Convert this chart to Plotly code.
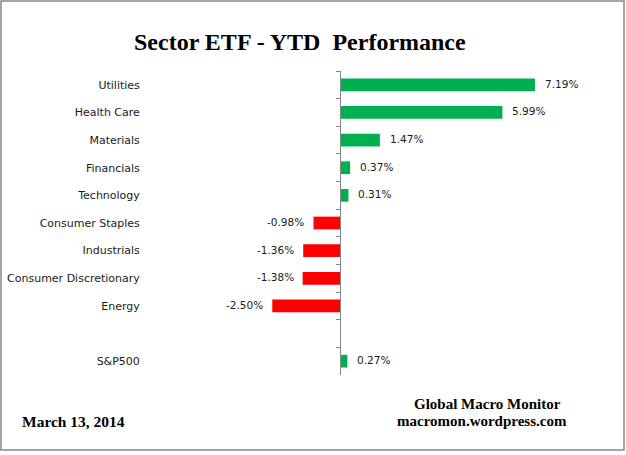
import plotly.graph_objects as go

categories = ["Utilities", "Health Care", "Materials", "Financials", "Technology",
              "Consumer Staples", "Industrials", "Consumer Discretionary", "Energy",
              " ", "S&P500"]
values = [7.19, 5.99, 1.47, 0.37, 0.31, -0.98, -1.36, -1.38, -2.50, None, 0.27]
labels = ["7.19%", "5.99%", "1.47%", "0.37%", "0.31%", "-0.98%", "-1.36%", "-1.38%",
          "-2.50%", "", "0.27%"]

W, H = 626, 455
ML, MR, MT, MB = 140, 26, 71, 80
PW, PH = W - ML - MR, H - MT - MB
XMIN, XMAX = -7.38, 9.59

def px_x(px):
    return (px - ML) / PW

def px_y(py):
    return (H - MB - py) / PH

colors = ["#00B050" if (v is not None and v >= 0) else "#FF0000" for v in values]

fig = go.Figure()
fig.add_trace(go.Bar(
    x=values, y=categories, orientation="h",
    marker=dict(color=colors, line=dict(width=0)),
    hoverinfo="skip",
))

lab_font = dict(family="DejaVu Sans", size=11, color="#1a1a1a")
val_font = dict(family="DejaVu Sans", size=10.5, color="#1a1a1a")
for c, v, t in zip(categories, values, labels):
    if v is None:
        continue
    fig.add_annotation(x=v, y=c, xref="x", yref="y", text=t, showarrow=False,
                       xanchor="left" if v >= 0 else "right",
                       xshift=8 if v >= 0 else -7, yshift=1, font=val_font)

serif = "Liberation Serif"
fig.add_annotation(x=px_x(300), y=px_y(42), xref="paper", yref="paper",
                   text="<b>Sector ETF - YTD  Performance</b>", showarrow=False,
                   xanchor="center", yanchor="middle",
                   font=dict(family=serif, size=24, color="black"))
fig.add_annotation(x=px_x(20), y=px_y(421), xref="paper", yref="paper",
                   text="<b>March 13, 2014</b>", showarrow=False,
                   xanchor="left", yanchor="middle",
                   font=dict(family=serif, size=15.5, color="black"))
fig.add_annotation(x=px_x(487), y=px_y(404), xref="paper", yref="paper",
                   text="<b>Global Macro Monitor</b>",
                   showarrow=False, xanchor="center", yanchor="middle",
                   font=dict(family=serif, size=15, color="black"))
fig.add_annotation(x=px_x(482), y=px_y(421), xref="paper", yref="paper",
                   text="<b>macromon.wordpress.com</b>",
                   showarrow=False, xanchor="center", yanchor="middle",
                   font=dict(family=serif, size=15, color="black"))

# outer border of the chart
fig.add_shape(type="rect", xref="paper", yref="paper",
              x0=px_x(1), x1=px_x(624), y0=px_y(450), y1=px_y(1),
              line=dict(color="#868686", width=1.5), fillcolor="rgba(0,0,0,0)")

fig.update_layout(
    width=W, height=H,
    margin=dict(l=ML, r=MR, t=MT, b=MB, autoexpand=False),
    paper_bgcolor="white", plot_bgcolor="white",
    showlegend=False, bargap=0.54,
    xaxis=dict(range=[XMIN, XMAX], visible=False, fixedrange=True,
               automargin=False),
    yaxis=dict(
        type="category", autorange="reversed", automargin=False,
        anchor="free", position=(0 - XMIN) / (XMAX - XMIN),
        showline=True, linecolor="#868686", linewidth=1,
        ticks="outside", tickson="boundaries", ticklen=4, tickcolor="#868686",
        ticklabelstandoff=198, showgrid=False, zeroline=False,
        tickfont=lab_font, fixedrange=True,
    ),
)

fig.write_html("out.html", config={"displayModeBar": False},
               post_script="document.body.style.margin='0';"
                           "document.body.style.overflow='hidden';")
